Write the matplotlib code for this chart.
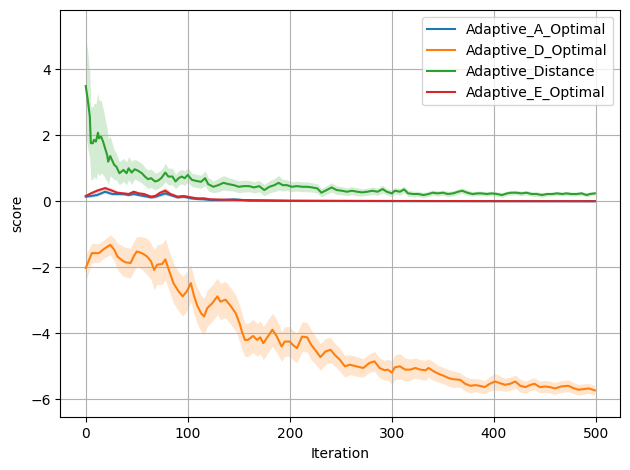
import numpy as np
import matplotlib
matplotlib.use("Agg")
import matplotlib.pyplot as plt

# Adaptive_A_Optimal
a_iter = [0, 5, 11, 19, 26, 31, 37, 42, 47, 52,
          57, 64, 68, 73, 78, 83, 90, 96, 103, 109,
          116, 122, 135, 145, 150, 160, 200, 300, 499]
a_mean = [0.14, 0.16, 0.19, 0.29, 0.22, 0.22, 0.22, 0.19, 0.22, 0.19,
          0.16, 0.12, 0.14, 0.19, 0.24, 0.19, 0.12, 0.14, 0.09, 0.07,
          0.06, 0.04, 0.04, 0.06, 0.05, 0.02, 0.01, 0.005, 0.002]
a_band = [0.03, 0.04, 0.04, 0.05, 0.04, 0.04, 0.04, 0.04, 0.04, 0.04,
          0.04, 0.04, 0.04, 0.05, 0.06, 0.04, 0.04, 0.04, 0.03, 0.03,
          0.03, 0.02, 0.02, 0.02, 0.02, 0.01, 0.01, 0.005, 0.003]

# Adaptive_D_Optimal
d_iter = [0, 6, 13, 18, 24, 28, 31, 36, 39, 44,
          47, 50, 55, 60, 64, 67, 70, 75, 78, 82,
          86, 91, 95, 99, 103, 106, 109, 113, 116, 119,
          124, 129, 132, 137, 142, 147, 151, 153, 156, 159,
          164, 168, 171, 174, 178, 183, 187, 192, 195, 200,
          203, 207, 212, 217, 221, 226, 230, 235, 240, 244,
          249, 254, 259, 265, 272, 278, 283, 288, 293, 296,
          300, 303, 308, 313, 318, 323, 328, 333, 336, 341,
          346, 351, 356, 360, 367, 372, 377, 382, 386, 391,
          396, 401, 406, 411, 416, 421, 426, 431, 436, 440,
          445, 450, 455, 460, 466, 473, 478, 483, 488, 493,
          499]
d_mean = [-2.02, -1.57, -1.57, -1.44, -1.32, -1.47, -1.67, -1.80, -1.85, -1.87,
          -1.67, -1.52, -1.57, -1.67, -1.82, -2.08, -1.92, -1.90, -1.76, -2.13,
          -2.48, -2.73, -2.88, -2.73, -2.48, -2.85, -3.14, -3.39, -3.49, -3.24,
          -3.09, -2.88, -3.04, -2.98, -3.17, -3.39, -3.72, -3.94, -4.20, -4.20,
          -4.08, -4.20, -4.12, -4.30, -4.12, -3.89, -4.08, -4.40, -4.25, -4.25,
          -4.35, -4.45, -4.10, -4.12, -4.35, -4.55, -4.72, -4.55, -4.50, -4.65,
          -4.80, -5.00, -4.95, -5.00, -5.05, -4.90, -4.85, -5.05, -5.12, -5.10,
          -5.19, -5.03, -5.00, -5.10, -5.10, -5.05, -5.10, -5.12, -5.05, -5.15,
          -5.23, -5.29, -5.36, -5.39, -5.41, -5.53, -5.59, -5.57, -5.59, -5.63,
          -5.53, -5.46, -5.51, -5.56, -5.53, -5.46, -5.59, -5.63, -5.56, -5.53,
          -5.63, -5.61, -5.63, -5.67, -5.61, -5.59, -5.66, -5.71, -5.69, -5.67,
          -5.73]
d_band = [0.40, 0.30, 0.28, 0.28, 0.30, 0.35, 0.40, 0.45, 0.45, 0.45,
          0.45, 0.45, 0.50, 0.55, 0.55, 0.60, 0.60, 0.62, 0.62, 0.60,
          0.60, 0.60, 0.60, 0.60, 0.55, 0.55, 0.55, 0.55, 0.55, 0.55,
          0.55, 0.55, 0.55, 0.55, 0.55, 0.55, 0.55, 0.55, 0.50, 0.50,
          0.50, 0.50, 0.50, 0.50, 0.50, 0.50, 0.50, 0.45, 0.45, 0.45,
          0.45, 0.45, 0.45, 0.45, 0.45, 0.42, 0.40, 0.40, 0.38, 0.35,
          0.35, 0.33, 0.30, 0.30, 0.28, 0.28, 0.30, 0.30, 0.30, 0.32,
          0.35, 0.38, 0.38, 0.35, 0.32, 0.30, 0.30, 0.30, 0.28, 0.28,
          0.25, 0.25, 0.25, 0.25, 0.22, 0.22, 0.22, 0.20, 0.20, 0.20,
          0.22, 0.25, 0.22, 0.20, 0.20, 0.20, 0.20, 0.18, 0.18, 0.18,
          0.18, 0.18, 0.18, 0.18, 0.18, 0.18, 0.17, 0.16, 0.16, 0.15,
          0.15]

# Adaptive_Distance
dist_iter = [0, 2, 4, 5, 7, 8, 10, 12, 13, 15,
             17, 19, 21, 22, 24, 25, 28, 30, 33, 37,
             40, 42, 45, 48, 51, 55, 58, 61, 64, 68,
             71, 74, 78, 81, 85, 88, 91, 94, 97, 100,
             104, 108, 113, 117, 120, 125, 130, 135, 140, 145,
             150, 155, 160, 165, 170, 175, 180, 185, 189, 193,
             197, 202, 207, 212, 217, 222, 227, 231, 236, 241,
             246, 251, 256, 261, 266, 271, 276, 281, 286, 291,
             295, 300, 303, 308, 312, 316, 321, 326, 331, 336,
             340, 345, 350, 355, 360, 365, 369, 374, 379, 384,
             388, 393, 398, 403, 408, 413, 417, 422, 427, 432,
             437, 442, 447, 452, 457, 462, 467, 471, 476, 481,
             486, 491, 494, 499]
dist_mean = [3.49, 3.07, 2.57, 1.76, 1.76, 1.86, 1.81, 2.08, 1.91, 1.96,
             1.81, 1.60, 1.40, 1.20, 1.37, 1.30, 1.10, 1.05, 0.85, 0.95,
             0.85, 1.00, 0.87, 0.97, 0.93, 0.85, 0.75, 0.67, 0.70, 0.60,
             0.63, 0.70, 0.87, 0.75, 0.75, 0.60, 0.70, 0.75, 0.70, 0.80,
             0.65, 0.62, 0.59, 0.70, 0.52, 0.44, 0.49, 0.56, 0.52, 0.49,
             0.44, 0.46, 0.46, 0.42, 0.46, 0.34, 0.44, 0.49, 0.56, 0.49,
             0.49, 0.44, 0.46, 0.44, 0.44, 0.42, 0.39, 0.26, 0.34, 0.42,
             0.34, 0.32, 0.29, 0.32, 0.29, 0.27, 0.29, 0.32, 0.29, 0.37,
             0.29, 0.24, 0.32, 0.29, 0.36, 0.24, 0.22, 0.22, 0.19, 0.22,
             0.26, 0.24, 0.26, 0.22, 0.24, 0.29, 0.32, 0.26, 0.22, 0.24,
             0.24, 0.22, 0.24, 0.22, 0.19, 0.24, 0.26, 0.26, 0.24, 0.26,
             0.22, 0.22, 0.19, 0.22, 0.22, 0.24, 0.22, 0.24, 0.22, 0.22,
             0.24, 0.19, 0.22, 0.24]
dist_band = [1.50, 1.45, 1.30, 1.10, 1.10, 1.10, 1.15, 1.20, 1.15, 1.10,
             1.00, 0.90, 0.80, 0.70, 0.60, 0.55, 0.45, 0.40, 0.35, 0.35,
             0.35, 0.35, 0.35, 0.30, 0.30, 0.30, 0.28, 0.28, 0.28, 0.25,
             0.25, 0.25, 0.28, 0.25, 0.25, 0.22, 0.22, 0.22, 0.22, 0.22,
             0.20, 0.20, 0.20, 0.22, 0.20, 0.18, 0.20, 0.22, 0.20, 0.18,
             0.18, 0.18, 0.17, 0.17, 0.17, 0.17, 0.18, 0.20, 0.22, 0.18,
             0.16, 0.15, 0.15, 0.15, 0.15, 0.14, 0.14, 0.13, 0.13, 0.14,
             0.13, 0.12, 0.12, 0.12, 0.12, 0.11, 0.11, 0.11, 0.11, 0.12,
             0.10, 0.10, 0.10, 0.10, 0.10, 0.09, 0.09, 0.08, 0.08, 0.08,
             0.08, 0.08, 0.08, 0.08, 0.08, 0.08, 0.08, 0.08, 0.07, 0.07,
             0.07, 0.07, 0.07, 0.07, 0.07, 0.07, 0.07, 0.07, 0.07, 0.07,
             0.07, 0.07, 0.07, 0.06, 0.06, 0.06, 0.06, 0.06, 0.06, 0.06,
             0.06, 0.06, 0.06, 0.06]

# Adaptive_E_Optimal
e_iter = [0, 5, 11, 19, 26, 31, 37, 42, 47, 52,
          57, 64, 68, 73, 78, 83, 90, 96, 103, 109,
          116, 122, 135, 150, 175, 200, 250, 300, 400, 499]
e_mean = [0.16, 0.24, 0.32, 0.40, 0.32, 0.26, 0.24, 0.22, 0.29, 0.24,
          0.22, 0.14, 0.16, 0.26, 0.32, 0.22, 0.14, 0.16, 0.12, 0.09,
          0.09, 0.06, 0.05, 0.04, 0.03, 0.02, 0.015, 0.01, 0.005, 0.003]
e_band = [0.04, 0.05, 0.06, 0.06, 0.06, 0.05, 0.05, 0.05, 0.05, 0.05,
          0.05, 0.05, 0.06, 0.08, 0.10, 0.06, 0.05, 0.05, 0.04, 0.04,
          0.03, 0.03, 0.03, 0.02, 0.02, 0.01, 0.01, 0.01, 0.005, 0.005]

series = [
    ("Adaptive_A_Optimal", a_iter, a_mean, a_band),
    ("Adaptive_D_Optimal", d_iter, d_mean, d_band),
    ("Adaptive_Distance", dist_iter, dist_mean, dist_band),
    ("Adaptive_E_Optimal", e_iter, e_mean, e_band),
]

fig, ax = plt.subplots(figsize=(6.3, 4.7), dpi=100)
for name, it, m, b in series:
    it = np.array(it)
    m = np.array(m)
    b = np.array(b)
    line, = ax.plot(it, m, label=name)
    ax.fill_between(it, m - b, m + b, color=line.get_color(), alpha=0.2, linewidth=0)

ax.set_xlim(-24.95, 523.95)
ax.set_ylim(-6.545, 5.80)
ax.set_xlabel("Iteration")
ax.set_ylabel("score")
ax.grid(True)
ax.legend(loc="upper right")
fig.subplots_adjust(left=0.0957, right=0.9846, bottom=0.1121, top=0.979)
fig.savefig("out.png")
